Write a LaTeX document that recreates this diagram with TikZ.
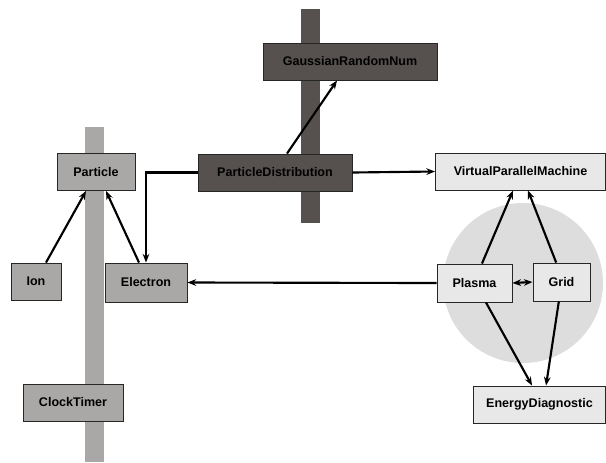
\documentclass[tikz,border=0pt]{standalone}
\usepackage{fontspec}
\setmainfont{Liberation Sans}
\usetikzlibrary{arrows.meta}
\definecolor{midgray}{RGB}{170,168,166}
\definecolor{darkgray}{RGB}{86,81,79}
\definecolor{palegray}{RGB}{232,232,232}
\definecolor{circgray}{RGB}{221,221,221}

\begin{document}
\begin{tikzpicture}[x=0.75pt,y=0.75pt,yscale=-1,xscale=1,
  box/.style={draw=black!85, line width=0.7pt, inner sep=0pt, minimum height=27.75pt, font=\fontsize{9.4}{11}\selectfont\bfseries},
  lbox/.style={box, fill=midgray},
  dbox/.style={box, fill=darkgray},
  pbox/.style={box, fill=palegray},
  link/.style={line width=1.6pt, -{Stealth[length=6.5pt,width=5pt]}}]
\useasboundingbox (0,0) rectangle (606,462);

%Shape: Bars and circle
\fill [midgray] (85,127) rectangle (104,462);
\fill [darkgray] (301,9) rectangle (320,223);
\fill [circgray] (523,283) circle [radius=60pt];

%Nodes: left group
\node [lbox, minimum width=58.5pt] (particle) at (96,172) {Particle};
\node [lbox, minimum width=37.5pt] (ion) at (36,281.5) {Ion};
\node [lbox, minimum width=61.5pt, minimum height=29.25pt] (electron) at (146,282.5) {Electron};
\node [lbox, minimum width=75pt] (clock) at (73,402.5) {ClockTimer};

%Nodes: middle group
\node [dbox, minimum width=130.5pt] (gauss) at (350,61.5) {GaussianRandomNum};
\node [dbox, minimum width=115.5pt] (pdist) at (275,172.5) {ParticleDistribution};

%Nodes: right group
\node [pbox, minimum width=127.5pt] (vpm) at (520.5,171.5) {VirtualParallelMachine};
\node [pbox, minimum width=56.25pt, minimum height=28.5pt] (plasma) at (474.5,283) {Plasma};
\node [pbox, minimum width=42.75pt, minimum height=28.5pt] (grid) at (561.5,282) {Grid};
\node [pbox, minimum width=99pt] (energy) at (539.5,404.5) {EnergyDiagnostic};

%Connectors
\draw [link] ([xshift=7.5pt]ion.north) -- ([xshift=-7.5pt]particle.south);
\draw [link] ([xshift=-5.25pt]electron.north) -- ([xshift=7.5pt]particle.south);
\draw [link] (pdist.west) -| (electron.north);
\draw [link] ([xshift=9pt]pdist.north) -- ([xshift=-9.75pt]gauss.south);
\draw [link] (pdist.east) -- (vpm.west);
\draw [link] (plasma.west) -- (electron.east);
\draw [link] ([xshift=5.6pt]plasma.north) -- ([xshift=-5.6pt]vpm.south);
\draw [link] ([xshift=-4pt]grid.north) -- ([xshift=5.6pt]vpm.south);
\draw [link, {Stealth[length=6.5pt,width=5pt]}-{Stealth[length=6.5pt,width=5pt]}] (plasma.east) -- (grid.west);
\draw [link] ([xshift=8.6pt]plasma.south) -- ([xshift=-5.6pt]energy.north);
\draw [link] ([xshift=-2pt]grid.south) -- ([xshift=4.9pt]energy.north);

\end{tikzpicture}
\end{document}
